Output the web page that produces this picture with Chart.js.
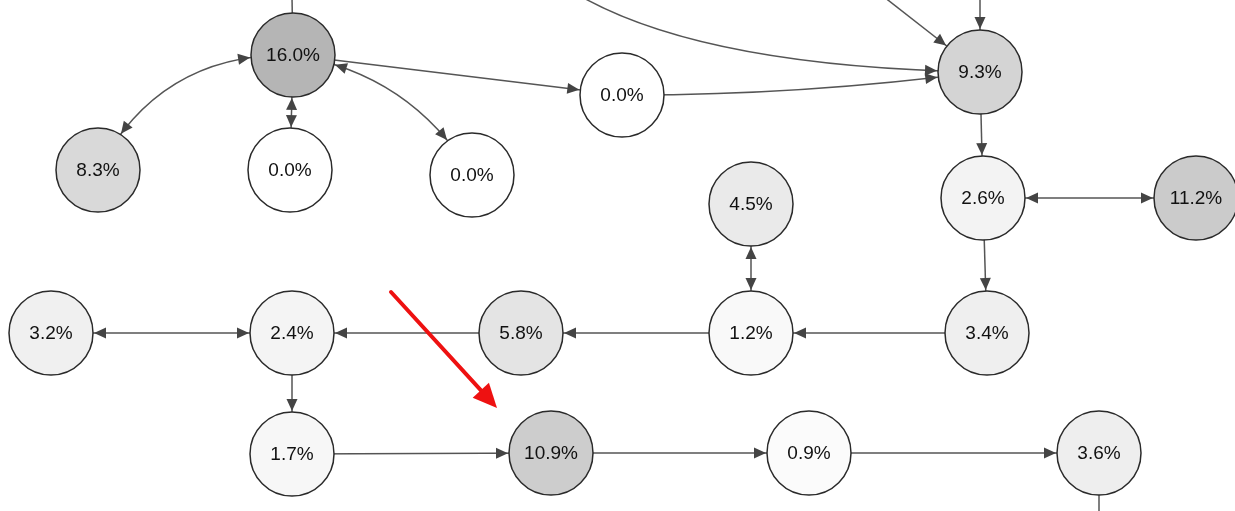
<!DOCTYPE html>
<html>
<head>
<meta charset="utf-8">
<script src="https://cdn.jsdelivr.net/npm/chart.js@4.4.1/dist/chart.umd.min.js"></script>
<style>
  html, body { margin: 0; padding: 0; background: #fff; overflow: hidden; }
  #wrap { width: 1235px; height: 511px; position: relative; }
</style>
</head>
<body>
<div id="wrap"><canvas id="chart"></canvas></div>
<script>
// share of each node (%)
const shares = [16.0, 0.0, 9.3, 8.3, 0.0, 0.0, 4.5, 2.6, 11.2, 3.2, 2.4, 5.8, 1.2, 3.4, 1.7, 10.9, 0.9, 3.6];
// node layout in the diagram plane
const nodeX = [293, 622, 980, 98, 290, 472, 751, 983, 1196, 51, 292, 521, 751, 987, 292, 551, 809, 1099];
const nodeY = [55, 95, 72, 170, 170, 175, 204, 198, 198, 333, 333, 333, 333, 333, 454, 453, 453, 453];
// anchors of edges that run out of the picture (index 18..)
const outX = [291, 570, 870, 980, 1099];
const outY = [-60, -10, -14, -60, 560];

// edges: from / to node index, bend and skew of the curve, arrow at both ends
const edgeFrom = [3, 0, 0, 0, 1, 19, 20, 21, 0, 2, 7, 7, 13, 12, 12, 11, 9, 10, 14, 15, 16, 17];
const edgeTo   = [0, 4, 5, 1, 2, 2, 2, 2, 18, 7, 8, 13, 12, 6, 11, 10, 10, 14, 15, 16, 17, 22];
const edgeBend = [-70, 0, -50, 0, 12, 51, 0, 0, 0, 0, 0, 0, 0, 0, 0, 0, 0, 0, 0, 0, 0, 0];
const edgeSkew = [0, 0, 0, 0, 0, -72, 0, 0, 0, 0, 0, 0, 0, 0, 0, 0, 0, 0, 0, 0, 0, 0];
const edgeBoth = [1, 1, 1, 0, 0, 0, 0, 0, 0, 0, 1, 0, 0, 1, 0, 0, 1, 0, 0, 0, 0, 0];

// red pointer towards the 10.9% node
const pointerFrom = [391, 292];
const pointerTo = [497, 408];

const R = 42;
const allX = nodeX.concat(outX);
const allY = nodeY.concat(outY);

function shade(v) {
  const g = Math.round(255 - v * 4.6);
  return `rgb(${g},${g},${g})`;
}

function head(ctx, tip, dir, len, half, color) {
  const l = Math.hypot(dir[0], dir[1]);
  const ux = dir[0] / l, uy = dir[1] / l;
  const bx = tip[0] - ux * len, by = tip[1] - uy * len;
  ctx.fillStyle = color;
  ctx.beginPath();
  ctx.moveTo(tip[0], tip[1]);
  ctx.lineTo(bx - uy * half, by + ux * half);
  ctx.lineTo(bx + uy * half, by - ux * half);
  ctx.closePath();
  ctx.fill();
}

// arrow head where the curve p0-c-p2 meets the circle round p2
function headOnCurve(ctx, p0, c, p2, r) {
  const B = t => [
    (1 - t) * (1 - t) * p0[0] + 2 * (1 - t) * t * c[0] + t * t * p2[0],
    (1 - t) * (1 - t) * p0[1] + 2 * (1 - t) * t * c[1] + t * t * p2[1],
  ];
  let lo = 0, hi = 1;
  for (let i = 0; i < 40; i++) {
    const m = (lo + hi) / 2;
    const p = B(m);
    if (Math.hypot(p[0] - p2[0], p[1] - p2[1]) > r) lo = m; else hi = m;
  }
  const t = lo;
  const tip = B(t);
  const d = [
    2 * (1 - t) * (c[0] - p0[0]) + 2 * t * (p2[0] - c[0]),
    2 * (1 - t) * (c[1] - p0[1]) + 2 * t * (p2[1] - c[1]),
  ];
  head(ctx, tip, d, 12, 5.5, '#444');
}

const graphPlugin = {
  id: 'graph',
  beforeDatasetsDraw(chart) {
    const { ctx, scales: { x, y } } = chart;
    const pt = i => [x.getPixelForValue(allX[i]), y.getPixelForValue(allY[i])];
    const rad = i => (i < shares.length ? R + 1 : 0);
    ctx.save();
    ctx.strokeStyle = '#555';
    ctx.lineWidth = 1.5;
    edgeFrom.forEach((a, k) => {
      const b = edgeTo[k];
      const p0 = pt(a), p2 = pt(b);
      const dx = p2[0] - p0[0], dy = p2[1] - p0[1];
      const len = Math.hypot(dx, dy);
      const c = [
        (p0[0] + p2[0]) / 2 - (dy / len) * edgeBend[k] + (dx / len) * edgeSkew[k],
        (p0[1] + p2[1]) / 2 + (dx / len) * edgeBend[k] + (dy / len) * edgeSkew[k],
      ];
      ctx.beginPath();
      ctx.moveTo(p0[0], p0[1]);
      ctx.quadraticCurveTo(c[0], c[1], p2[0], p2[1]);
      ctx.stroke();
      if (rad(b) > 0) headOnCurve(ctx, p0, c, p2, rad(b));
      if (edgeBoth[k] && rad(a) > 0) headOnCurve(ctx, p2, c, p0, rad(a));
    });
    ctx.restore();
  },
  afterDatasetsDraw(chart) {
    const { ctx, scales: { x, y } } = chart;
    ctx.save();
    ctx.fillStyle = '#111';
    ctx.font = '19px "Liberation Sans", Arial, sans-serif';
    ctx.textAlign = 'center';
    ctx.textBaseline = 'middle';
    shares.forEach((v, i) => {
      ctx.fillText(v.toFixed(1) + '%', x.getPixelForValue(nodeX[i]), y.getPixelForValue(nodeY[i]) + 1);
    });
    // red pointer
    const a = [x.getPixelForValue(pointerFrom[0]), y.getPixelForValue(pointerFrom[1])];
    const b = [x.getPixelForValue(pointerTo[0]), y.getPixelForValue(pointerTo[1])];
    const d = [b[0] - a[0], b[1] - a[1]];
    const l = Math.hypot(d[0], d[1]);
    ctx.strokeStyle = '#ee1111';
    ctx.lineWidth = 4;
    ctx.lineCap = 'round';
    ctx.beginPath();
    ctx.moveTo(a[0], a[1]);
    ctx.lineTo(b[0] - d[0] / l * 18, b[1] - d[1] / l * 18);
    ctx.stroke();
    head(ctx, b, d, 24, 11, '#ee1111');
    ctx.restore();
  },
};

const chart = new Chart(document.getElementById('chart'), {
  type: 'scatter',
  data: {
    datasets: [{
      data: shares.map((v, i) => ({ x: nodeX[i], y: nodeY[i] })),
      pointRadius: R,
      pointHoverRadius: R,
      backgroundColor: shares.map(shade),
      borderColor: '#2a2a2a',
      borderWidth: 1.5,
      clip: false,
    }],
  },
  options: {
    responsive: true,
    maintainAspectRatio: false,
    animation: false,
    events: [],
    layout: { padding: 0, autoPadding: false },
    plugins: { legend: { display: false }, tooltip: { enabled: false } },
    scales: {
      x: { type: 'linear', min: 0, max: 1235, display: false },
      y: { type: 'linear', min: 0, max: 511, reverse: true, display: false },
    },
  },
  plugins: [graphPlugin],
});
</script>
</body>
</html>
